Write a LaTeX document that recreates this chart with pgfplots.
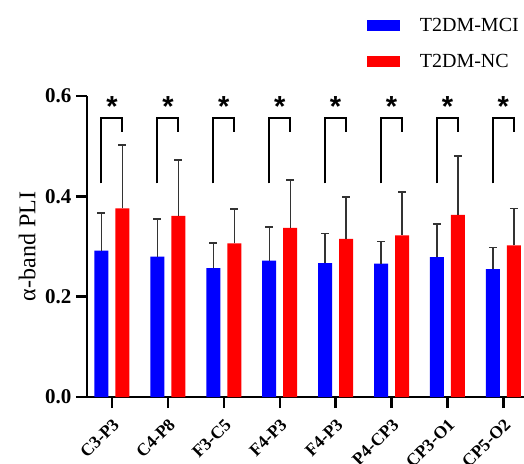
\documentclass[border=0pt]{standalone}
\usepackage{fontspec}
\setmainfont{Liberation Serif}
\newfontfamily\arialfont{Liberation Sans}
\usepackage{pgfplots}
\pgfplotsset{compat=1.18}

\definecolor{mciblue}{RGB}{0,0,255}
\definecolor{ncred}{RGB}{255,0,0}

\pgfplotsset{
  boxlegend/.style={legend image code/.code={\fill[##1] (0pt,-5.5pt) rectangle (33pt,5.5pt);}},
}

\begin{document}
\begin{tikzpicture}
\begin{axis}[
  scale only axis,
  width=437pt, height=301pt,
  at={(0,0)}, anchor=south west,
  ybar,
  bar width=14pt,
  xmin=-0.447, xmax=7.37,
  ymin=0, ymax=0.6,
  ytick={0,0.2,0.4,0.6},
  xtick={0,...,7},
  xticklabels={C3-P3,C4-P8,F3-C5,F4-P3,F4-P3,P4-CP3,CP3-O1,CP5-O2},
  axis x line*=bottom, axis y line*=left,
  axis line style={line width=2.4pt, -},
  tick align=outside,
  major tick length=11pt,
  tick style={line width=2.4pt, black},
  /pgf/number format/assume math mode=true,
  /pgf/number format/.cd, fixed, fixed zerofill, precision=1, /pgfplots/.cd,
  yticklabel style={font=\bfseries\fontsize{21}{21}\selectfont, xshift=-1pt},
  xticklabel style={font=\bfseries\fontsize{17.5}{17.5}\selectfont, xshift=0pt, yshift=-8pt, rotate=45, anchor=north east, inner sep=1pt},
  ylabel={α-band PLI},
  ylabel style={font=\fontsize{24}{24}\selectfont, at={(rel axis cs:-0.137,0.5)}, anchor=center, rotate=0},
  legend style={at={(rel axis cs:0.640,1.265)}, anchor=north west, draw=none, fill=none,
    font=\fontsize{20}{20}\selectfont, row sep=17pt, inner sep=0pt,
    /tikz/column sep=18pt},
  legend cell align=left,
  clip=false,
  error bars/y dir=plus, error bars/y explicit,
  error bars/error bar style={line width=1.4pt, black!80},
  error bars/error mark=-,
  error bars/error mark options={rotate=90, line width=1.6pt, mark size=4pt, black!80},
]
\addplot[fill=mciblue, draw=none, bar shift=-10.5pt, boxlegend] coordinates {
  (0,0.292) +- (0,0.075)
  (1,0.280) +- (0,0.075)
  (2,0.257) +- (0,0.050)
  (3,0.272) +- (0,0.067)
  (4,0.267) +- (0,0.059)
  (5,0.266) +- (0,0.044)
  (6,0.279) +- (0,0.066)
  (7,0.255) +- (0,0.043)
};
\addplot[fill=ncred, draw=none, bar shift=10.5pt, boxlegend] coordinates {
  (0,0.376) +- (0,0.126)
  (1,0.361) +- (0,0.111)
  (2,0.306) +- (0,0.069)
  (3,0.337) +- (0,0.096)
  (4,0.315) +- (0,0.084)
  (5,0.322) +- (0,0.087)
  (6,0.363) +- (0,0.117)
  (7,0.302) +- (0,0.074)
};
\legend{T2DM-MCI,T2DM-NC}
% significance brackets and stars
\pgfplotsinvokeforeach{0,...,7}{
  \draw[line width=2pt, black] (axis cs:#1-0.188,0.426) -- (axis cs:#1-0.188,0.557) -- (axis cs:#1+0.188,0.557) -- (axis cs:#1+0.188,0.528);
  \node[anchor=base, inner sep=0pt, font=\arialfont\bfseries\fontsize{29}{29}\selectfont] at (axis cs:#1,0.560) {*};
}
\end{axis}
\pgfresetboundingbox
\path (-87pt,-66pt) rectangle (437pt,397pt);
\end{tikzpicture}
\end{document}
